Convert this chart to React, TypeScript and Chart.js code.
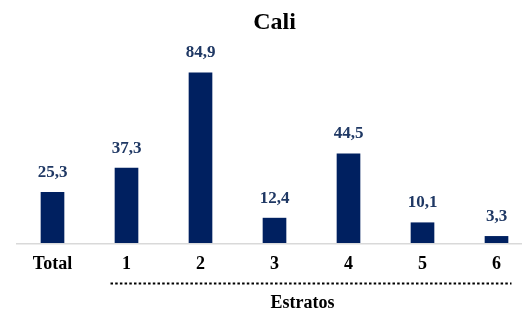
import React, { useEffect, useRef } from "react";
import { Chart, registerables } from "chart.js";

Chart.register(...registerables);

const categories = ["Total", "1", "2", "3", "4", "5", "6"];
const values = [25.3, 37.3, 84.9, 12.4, 44.5, 10.1, 3.3];
const titleText = "Cali";
const groupLabel = "Estratos";

const FONT = "'Liberation Serif', 'Times New Roman', serif";
const BAR = "#002060";
const LABEL = "#1f3864";

const extras = {
  id: "extras",
  afterDatasetsDraw(chart: any) {
    const { ctx, chartArea, scales } = chart;
    const x = scales.x;
    ctx.save();
    // axis line
    ctx.strokeStyle = "#d9d9d9";
    ctx.lineWidth = 1.5;
    ctx.beginPath();
    ctx.moveTo(16, chartArea.bottom + 0.75);
    ctx.lineTo(522, chartArea.bottom + 0.75);
    ctx.stroke();
    // value labels
    ctx.fillStyle = LABEL;
    ctx.font = `bold 17px ${FONT}`;
    ctx.textAlign = "center";
    ctx.textBaseline = "middle";
    const meta = chart.getDatasetMeta(0);
    meta.data.forEach((bar: any, i: number) => {
      ctx.fillText(values[i].toFixed(1).replace(".", ","), bar.x, bar.y - 20);
    });
    // title
    ctx.fillStyle = "#000";
    ctx.font = `bold 24px ${FONT}`;
    ctx.fillText(titleText, 274.5, 23);
    // dotted group line
    const x1 = x.getPixelForValue(1) - 16;
    const x6 = x.getPixelForValue(6) + 15;
    ctx.strokeStyle = "#000";
    ctx.lineWidth = 2;
    ctx.setLineDash([2.5, 2.2]);
    ctx.beginPath();
    ctx.moveTo(x1, 283.5);
    ctx.lineTo(x6, 283.5);
    ctx.stroke();
    ctx.setLineDash([]);
    ctx.font = `bold 18px ${FONT}`;
    ctx.fillText(groupLabel, 302.5, 303);
    ctx.restore();
  },
};

export default function App() {
  const ref = useRef<HTMLCanvasElement>(null);
  useEffect(() => {
    if (!ref.current) return;
    const chart = new Chart(ref.current, {
      type: "bar",
      data: {
        labels: categories,
        datasets: [
          {
            data: values,
            backgroundColor: BAR,
            borderWidth: 0,
            barThickness: 23,
            clip: false as any,
          },
        ],
      },
      options: {
        responsive: false,
        animation: false,
        layout: { padding: { left: 52.5, right: 29.5, top: 62.5, bottom: 40 } },
        plugins: {
          legend: { display: false },
          title: { display: false },
          tooltip: { enabled: false },
        },
        scales: {
          x: {
            offset: false,
            grid: { display: false, drawTicks: false },
            border: { display: false },
            afterFit: (scale: any) => {
              scale.height = 30;
            },
            ticks: {
              color: "#000",
              font: { family: FONT, size: 18, weight: "bold" },
              padding: 11,
              maxRotation: 0,
              autoSkip: false,
            },
          },
          y: {
            display: false,
            min: 0,
            max: 90,
          },
        },
      },
      plugins: [extras],
    });
    return () => chart.destroy();
  }, []);
  return (
    <div style={{ position: "fixed", left: 0, top: 0, width: 526, height: 313 }}>
      <canvas ref={ref} width={526} height={313} style={{ display: "block" }} />
    </div>
  );
}
